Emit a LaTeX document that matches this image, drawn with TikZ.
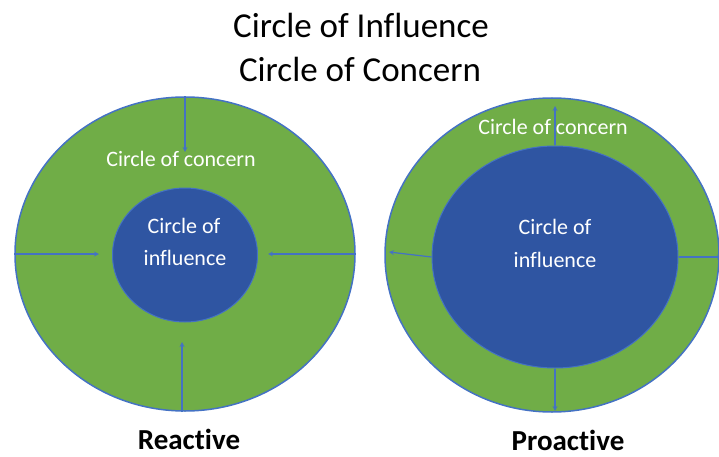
\documentclass[tikz,border=0pt]{standalone}
\usepackage{fontspec}
\setmainfont{Carlito}[Ligatures=NoCommon]
\usetikzlibrary{shapes.geometric}
\definecolor{cgreen}{HTML}{70AD47}
\definecolor{cblue}{HTML}{2F55A2}
\definecolor{cline}{HTML}{4472C4}
\begin{document}
\begin{tikzpicture}[x=1pt,y=-1pt,>=stealth,
		ring/.style={ellipse,fill=cgreen,draw=cline,line width=1.5pt,inner sep=0pt},
		disc/.style={ellipse,fill=cblue,draw=cline,line width=1pt,inner sep=0pt},
		arr/.style={->,draw=cline,line width=1.2pt},
		lbl/.style={text=white,anchor=base,font=\fontsize{22}{26}\selectfont}]
		\useasboundingbox (0,0) rectangle (719,457);

		\node[anchor=base,font=\fontsize{35}{42}\selectfont] (title) at (361,38) {Circle of Influence};
		\node[anchor=base,font=\fontsize{35}{42}\selectfont] (subtitle) at (360,82) {Circle of Concern};

		% reactive
		\node[ring,minimum width=340pt,minimum height=314pt] (reactOuter) at (185,254) {};
		\node[disc,minimum width=145pt,minimum height=134pt] (reactInner) at (185,255) {};
		\coordinate (rTop) at (185,152);
		\coordinate (rLeft) at (99,254);
		\coordinate (rRight) at (268,254);
		\coordinate (rBottom) at (182,342);
		\coordinate (rFoot) at (182,412);
		\draw[arr] (reactOuter.north) -- (rTop);
		\draw[arr] (reactOuter.west) -- (rLeft);
		\draw[arr] (reactOuter.east) -- (rRight);
		\draw[arr] (rFoot) -- (rBottom);
		\node[lbl] (rConcern) at (181,167) {Circle of concern};
		\node[lbl] (rInfl1) at (184,233) {Circle of};
		\node[lbl] (rInfl2) at (185,265) {influence};
		\node[anchor=base,inner sep=0pt,font=\bfseries\fontsize{29}{34}\selectfont] (reactive) at (189,449) {Reactive};

		% proactive
		\node[ring,minimum width=334pt,minimum height=314pt] (proOuter) at (552,255) {};
		\node[disc,minimum width=246pt,minimum height=222pt] (proInner) at (555,257) {};
		\coordinate (pTop) at (555,106);
		\coordinate (pLeft) at (389,252);
		\coordinate (pRight) at (722,257);
		\coordinate (pBottom) at (555,411);
		\draw[arr] (proInner.north) -- (pTop);
		\draw[arr] (proInner.west) -- (pLeft);
		\draw[arr] (proInner.east) -- (pRight);
		\draw[arr] (proInner.south) -- (pBottom);
		\node[lbl] (pConcern) at (553,135) {Circle of concern};
		\node[lbl] (pInfl1) at (555,234) {Circle of};
		\node[lbl] (pInfl2) at (555,267) {influence};
		\node[anchor=base,inner sep=0pt,font=\bfseries\fontsize{29}{34}\selectfont] (proactive) at (568,450) {Proactive};
	\end{tikzpicture}
\end{document}
